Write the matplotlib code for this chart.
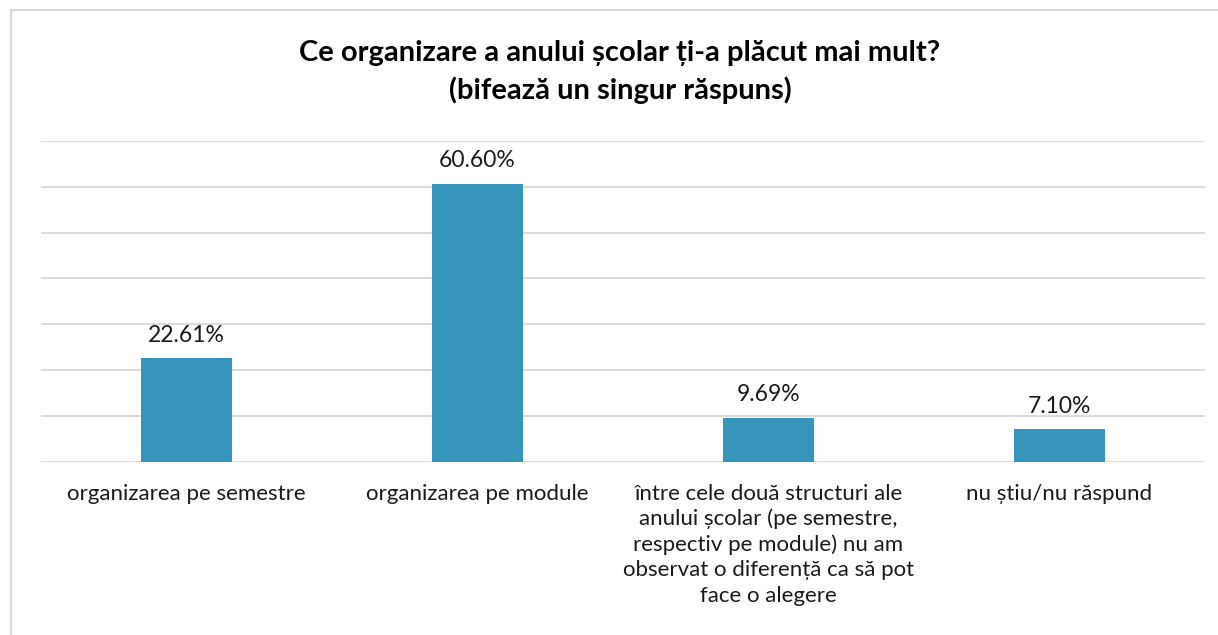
import matplotlib
matplotlib.use("Agg")
import matplotlib.pyplot as plt
import matplotlib.patches as mpatches
import numpy as np

plt.rcParams["font.family"] = ["Lato", "DejaVu Sans"]

# date
categories = [
    "organizarea pe semestre",
    "organizarea pe module",
    "între cele două structuri ale\nanului școlar (pe semestre,\nrespectiv pe module) nu am\nobservat o diferență ca să pot\nface o alegere",
    "nu știu/nu răspund",
]
values = [22.61, 60.60, 9.69, 7.10]
value_labels = ["22.61%", "60.60%", "9.69%", "7.10%"]
title = "Ce organizare a anului școlar ți-a plăcut mai mult?\n(bifează un singur răspuns)"

BAR_COLOR = "#3795BB"
GRID_COLOR = "#D9D9D9"
TEXT_COLOR = "#1A1A1A"

W, H = 1218, 635
fig = plt.figure(figsize=(W / 100, H / 100), dpi=100)

# chenarul graficului (stânga + sus, restul iese din imagine)
fig.patches.append(mpatches.Rectangle((11 / W, -0.1), 1.2, (H - 10) / H + 0.1,
                                      transform=fig.transFigure, fill=False,
                                      edgecolor="#D9D9D9", lw=1.5))

ax = fig.add_axes([41 / W, (H - 462) / H, (1205 - 41) / W, (462 - 140.7) / H])
x = np.arange(len(categories))
ax.bar(x, values, width=0.313, color=BAR_COLOR, zorder=3)

ax.set_xlim(-0.5, len(categories) - 0.5)
ax.set_ylim(0, 70)
ax.set_yticks(np.arange(0, 71, 10))
ax.yaxis.grid(True, color=GRID_COLOR, lw=1.3)
ax.set_axisbelow(True)
ax.tick_params(axis="y", left=False, labelleft=False)
ax.tick_params(axis="x", bottom=False, pad=12)
for s in ax.spines.values():
    s.set_visible(False)

ax.set_xticks(x)
ax.set_xticklabels(categories, fontsize=16, color=TEXT_COLOR,
                   linespacing=1.32, va="top")

for xi, v, lbl in zip(x, values, value_labels):
    ax.annotate(lbl, (xi, v), xytext=(0, 9), textcoords="offset points",
                ha="center", va="bottom", fontsize=16.5, color=TEXT_COLOR)

fig.text(620 / W, 1 - 72 / H, title, ha="center", va="center",
         fontsize=21, fontweight="bold", color="#000000", linespacing=1.45)

fig.savefig("out.png", dpi=100, facecolor="white")
